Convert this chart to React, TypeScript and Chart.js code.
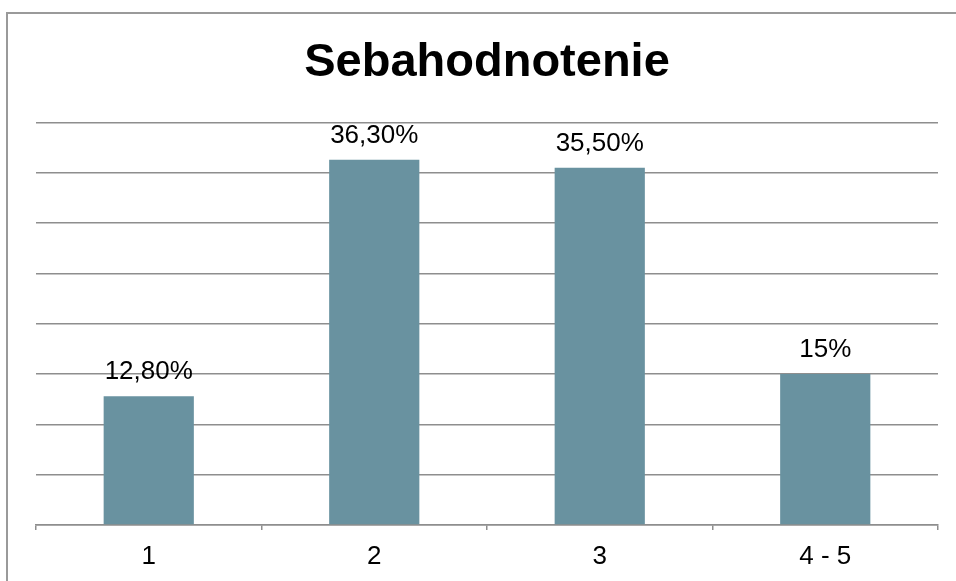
import React, { useEffect, useRef } from "react";
import { Chart, registerables } from "chart.js";

Chart.register(...registerables);

const categories: string[] = ["1", "2", "3", "4 - 5"];
const values: number[] = [12.8, 36.3, 35.5, 15];
const valueLabels: string[] = ["12,80%", "36,30%", "35,50%", "15%"];
const yMin = 0;
const yMax = 40;
const yStep = 5;
const titleText = "Sebahodnotenie";

const FONT = "'Liberation Sans', Arial, sans-serif";

const dataLabelPlugin = {
  id: "dataLabels",
  afterDatasetsDraw(chart: any) {
    const ctx = chart.ctx;
    const meta = chart.getDatasetMeta(0);
    ctx.save();
    ctx.font = `26px ${FONT}`;
    ctx.fillStyle = "#000000";
    ctx.textAlign = "center";
    ctx.textBaseline = "alphabetic";
    meta.data.forEach((bar: any, i: number) => {
      ctx.fillText(valueLabels[i], bar.x, bar.y - 17);
    });
    ctx.restore();
  },
};

export default function App() {
  const ref = useRef<HTMLCanvasElement | null>(null);

  useEffect(() => {
    if (!ref.current) return;
    const chart = new Chart(ref.current, {
      type: "bar",
      data: {
        labels: categories,
        datasets: [
          {
            data: values,
            backgroundColor: "#6992A0",
            borderWidth: 0,
            categoryPercentage: 1,
            barPercentage: 0.4,
          },
        ],
      },
      options: {
        responsive: false,
        animation: false,
        maintainAspectRatio: false,
        layout: { padding: { left: 36, right: 18, top: 30, bottom: 0 } },
        plugins: {
          legend: { display: false },
          tooltip: { enabled: false },
          title: {
            display: true,
            text: titleText,
            color: "#000000",
            font: { family: FONT, size: 47, weight: "bold", lineHeight: 1.2 },
            padding: { top: 5, bottom: 31 },
          },
        },
        scales: {
          x: {
            afterFit: (scale: any) => {
              scale.height = 56;
            },
            grid: {
              display: true,
              drawOnChartArea: false,
              drawTicks: true,
              tickLength: 5,
              color: "#8e8e8e",
              lineWidth: 1.5,
            },
            border: { display: true, color: "#8e8e8e", width: 1.5 },
            ticks: {
              color: "#000000",
              font: { family: FONT, size: 26 },
              padding: 11,
            },
          },
          y: {
            min: yMin,
            max: yMax,
            ticks: { display: false, stepSize: yStep },
            grid: {
              display: true,
              drawTicks: false,
              color: "#8e8e8e",
              lineWidth: 1.5,
            },
            border: { display: false },
          },
        },
      },
      plugins: [dataLabelPlugin],
    });
    return () => chart.destroy();
  }, []);

  return (
    <div
      style={{
        position: "fixed",
        left: 0,
        top: 0,
        width: 956,
        height: 581,
        overflow: "hidden",
        background: "#ffffff",
      }}
    >
      <div
        style={{
          position: "absolute",
          left: 6,
          top: 12,
          width: 1200,
          height: 1200,
          border: "2px solid #9a9a9a",
          boxSizing: "border-box",
        }}
      />
      <canvas
        ref={ref}
        width={956}
        height={581}
        style={{ position: "absolute", left: 0, top: 0, width: 956, height: 581 }}
      />
    </div>
  );
}
